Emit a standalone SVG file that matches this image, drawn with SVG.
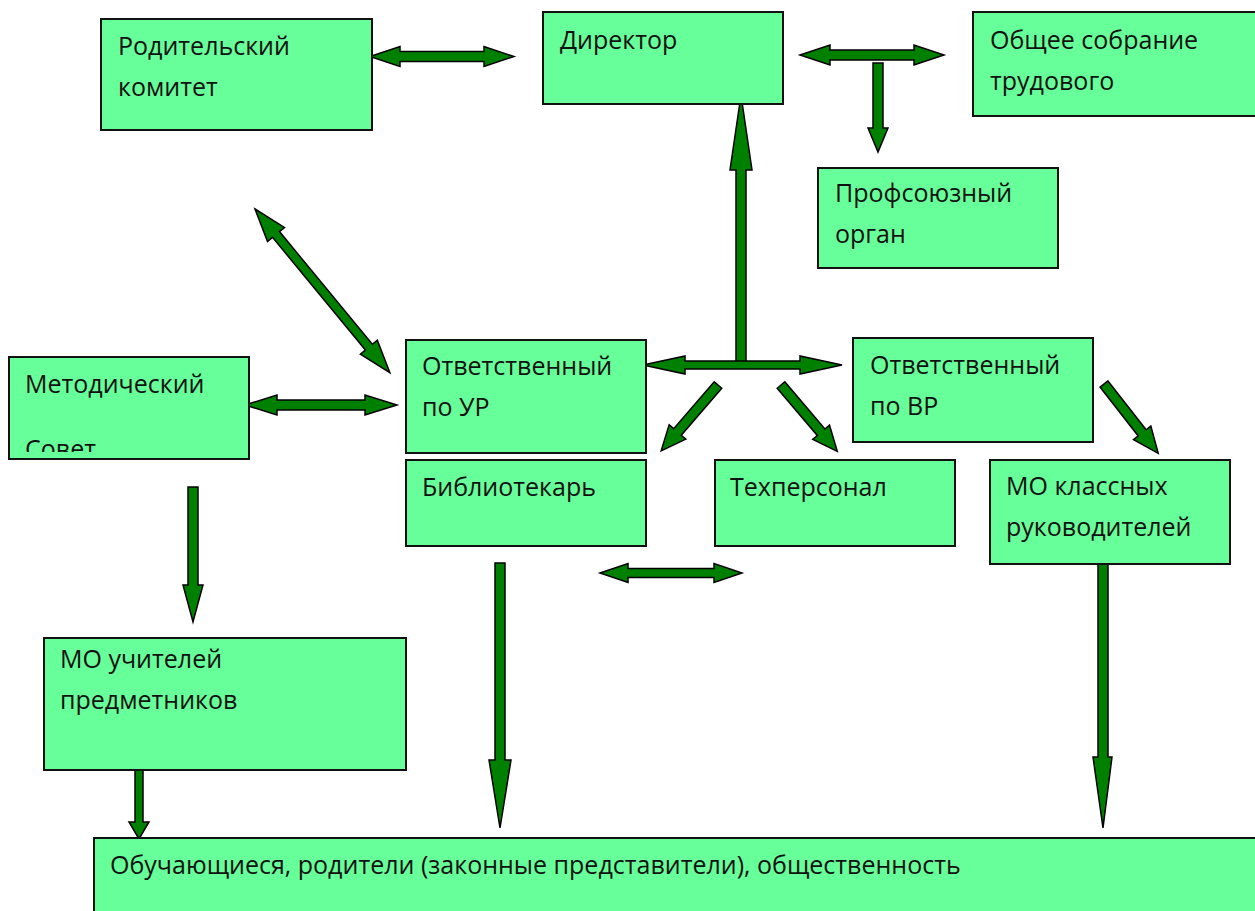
<svg xmlns="http://www.w3.org/2000/svg" width="1255" height="911" viewBox="0 0 1255 911">
<style>
.box{fill:#66ff99;stroke:#111;stroke-width:2}
.t{font-family:"Open Sans","Noto Sans",sans-serif;font-size:25px;fill:#111}
.ar{fill:#008000;stroke:#000;stroke-width:1.5;stroke-linejoin:miter}
</style>
<defs>
<clipPath id="clipMet"><rect x="10" y="358" width="238" height="94"/></clipPath>
<filter id="blur" x="-10%" y="-50%" width="120%" height="200%"><feGaussianBlur stdDeviation="0.7"/></filter>
</defs>
<rect width="1255" height="911" fill="#fff"/>

<g id="connectors">
<polygon class="ar" points="370,56.5 400,46.5 400,51.5 484,51.5 484,46.5 514,56.5 484,66.5 484,61.5 400,61.5 400,66.5"/>
<polygon class="ar" points="800,55 830,45 830,50 914,50 914,45 944,55 914,65 914,60 830,60 830,65"/>
<polygon class="ar" points="873,63 883,63 883,128 888,128 878,152 868,128 873,128"/>
<polygon class="ar" points="741,95 752,170 746,170 746,366 736,366 736,170 730,170"/>
<polygon class="ar" points="643,365 685,356 685,361 800,361 800,356 842,365 800,374 800,369 685,369 685,374"/>
<polygon class="ar" transform="translate(718,385) rotate(130.8)" points="0,-5 62,-5 62,-11 87,0 62,11 62,5 0,5"/>
<polygon class="ar" transform="translate(781,385) rotate(49.7)" points="0,-5 62,-5 62,-11 87,0 62,11 62,5 0,5"/>
<polygon class="ar" transform="translate(1104,384) rotate(52)" points="0,-5 62,-5 62,-11 88,0 62,11 62,5 0,5"/>
<polygon class="ar" transform="translate(255,209) rotate(50.5)" points="0,0 33,-11 33,-4.5 179,-4.5 179,-11 212,0 179,11 179,4.5 33,4.5 33,11"/>
<polygon class="ar" points="245,405 277,395 277,400 365,400 365,395 397,405 365,415 365,410 277,410 277,415"/>
<polygon class="ar" filter="url(#blur)" points="600,573 628,563.5 628,568.5 714,568.5 714,563.5 742,573 714,582.5 714,577.5 628,577.5 628,582.5"/>
<polygon class="ar" points="188,487 198,487 198,585 203,585 193,622 183,585 188,585"/>
<polygon class="ar" points="495,563 505,563 505,760 511,760 500,828 489,760 495,760"/>
<polygon class="ar" points="1098,564 1108,564 1108,757 1112,757 1103,828 1093,757 1098,757"/>
<polygon class="ar" points="135,770 143,770 143,822 149,822 139,839 129,822 135,822"/>
</g>

<g id="roditelsky">
<rect class="box" x="101" y="19" width="271" height="111"/>
<text class="t" x="118" y="55">Родительский</text>
<text class="t" x="118" y="96">комитет</text>
</g>
<g id="direktor">
<rect class="box" x="543" y="12" width="240" height="92"/>
<text class="t" x="560" y="49">Директор</text>
</g>
<g id="obshee">
<rect class="box" x="973" y="12" width="283" height="104"/>
<text class="t" x="990" y="49">Общее собрание</text>
<text class="t" x="990" y="90">трудового</text>
</g>
<g id="profsoyuz">
<rect class="box" x="818" y="168" width="240" height="100"/>
<text class="t" x="835" y="202">Профсоюзный</text>
<text class="t" x="835" y="243">орган</text>
</g>
<g id="otv-ur">
<rect class="box" x="406" y="340" width="240" height="113"/>
<text class="t" x="422" y="375">Ответственный</text>
<text class="t" x="422" y="416">по УР</text>
</g>
<g id="otv-vr">
<rect class="box" x="853" y="338" width="240" height="104"/>
<text class="t" x="870" y="374">Ответственный</text>
<text class="t" x="870" y="415">по ВР</text>
</g>
<g id="metod">
<rect class="box" x="9" y="357" width="240" height="102"/>
<g clip-path="url(#clipMet)">
<text class="t" x="25" y="393">Методический</text>
<text class="t" x="25" y="458">Совет</text>
</g>
</g>
<g id="bibl">
<rect class="box" x="406" y="460" width="240" height="86"/>
<text class="t" x="422" y="496">Библиотекарь</text>
</g>
<g id="tehpers">
<rect class="box" x="715" y="460" width="240" height="86"/>
<text class="t" x="730" y="496">Техперсонал</text>
</g>
<g id="mo-kl">
<rect class="box" x="990" y="460" width="240" height="104"/>
<text class="t" x="1006" y="495">МО классных</text>
<text class="t" x="1006" y="536">руководителей</text>
</g>
<g id="mo-uch">
<rect class="box" x="44" y="638" width="362" height="132"/>
<text class="t" x="60" y="668">МО учителей</text>
<text class="t" x="60" y="709">предметников</text>
</g>
<g id="obuch">
<rect class="box" x="94" y="838" width="1170" height="80"/>
<text class="t" x="110" y="874">Обучающиеся, родители (законные представители), общественность</text>
</g>
</svg>
